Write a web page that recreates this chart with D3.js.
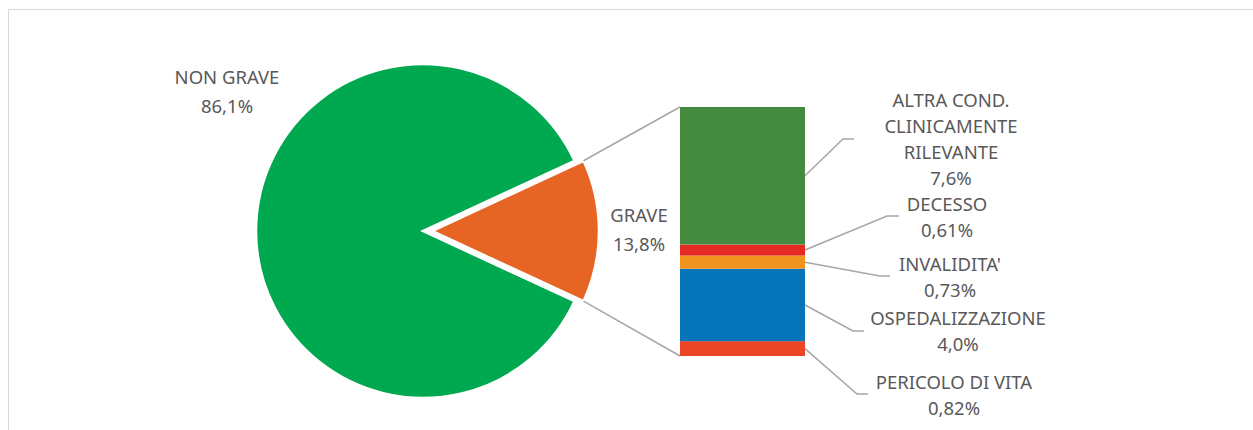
<!DOCTYPE html>
<html>
<head>
<meta charset="utf-8">
<script src="https://cdn.jsdelivr.net/npm/d3@7"></script>
<style>
  body { margin: 0; background: #fff; }
  text { font-family: "Noto Sans", sans-serif; font-size: 18.5px; fill: #595959; }
</style>
</head>
<body>
<script>
// pie: non grave vs grave
const pieLabels = ['NON GRAVE', 'GRAVE'];
const pieValues = [86.1, 13.8];
const pieText = ['86,1%', '13,8%'];
const pieColors = ['#00a850', '#e66525'];

// breakdown of GRAVE, bottom to top
const subLabels = [['PERICOLO DI VITA'], ['OSPEDALIZZAZIONE'], ["INVALIDITA'"], ['DECESSO'], ['ALTRA COND.', 'CLINICAMENTE', 'RILEVANTE']];
const subValues = [0.82, 4.0, 0.73, 0.61, 7.6];
const subText = ['0,82%', '4,0%', '0,73%', '0,61%', '7,6%'];
const subColors = ['#ec4525', '#0574b8', '#f0931f', '#e32b24', '#448a3f'];

const svg = d3.select('body').append('svg')
    .attr('width', 1253)
    .attr('height', 430);

// chart frame
svg.append('rect')
    .attr('x', 8.5).attr('y', 9.5)
    .attr('width', 1300).attr('height', 500)
    .style('fill', 'none').style('stroke', '#d9d9d9');

const cx = 423, cy = 231, r = 167, explode = 9;
const gAng = 2 * Math.PI * pieValues[1] / d3.sum(pieValues);
const start = Math.PI / 2 + gAng / 2;
const pie = d3.pie().sort(null).startAngle(start).endAngle(start + 2 * Math.PI);
const arcs = pie(pieValues);
const arc = d3.arc().innerRadius(0).outerRadius(r);

svg.selectAll('path.slice')
    .data(arcs)
    .enter()
    .append('path')
    .attr('class', 'slice')
    .attr('d', arc)
    .attr('transform', (d, i) => `translate(${cx + (i === 1 ? explode : 0)},${cy})`)
    .style('fill', (d, i) => pieColors[i])
    .style('stroke', '#fff')
    .style('stroke-width', 2.5);

// sub bar
const barX = 680, barW = 125;
const y = d3.scaleLinear().domain([0, d3.sum(subValues)]).range([356, 107]);
const cum = d3.cumsum(subValues);
const segs = subValues.map((v, i) => ({v, i, y0: cum[i] - v, y1: cum[i]}));

svg.selectAll('rect.seg')
    .data(segs)
    .enter()
    .append('rect')
    .attr('class', 'seg')
    .attr('x', barX)
    .attr('y', d => y(d.y1))
    .attr('width', barW)
    .attr('height', d => y(d.y0) - y(d.y1))
    .style('fill', d => subColors[d.i]);

// connector lines from grave slice to bar
const gx = cx + explode;
const aTop = arcs[1].startAngle, aBot = arcs[1].endAngle;
const conn = [
  [gx + r * Math.sin(aTop), cy - r * Math.cos(aTop), barX, y(d3.sum(subValues))],
  [gx + r * Math.sin(aBot), cy - r * Math.cos(aBot), barX, y(0)]
];
svg.selectAll('line.conn')
    .data(conn)
    .enter()
    .append('line')
    .attr('x1', d => d[0]).attr('y1', d => d[1])
    .attr('x2', d => d[2]).attr('y2', d => d[3])
    .style('stroke', '#a6a6a6').style('stroke-width', 1.5);

// pie labels
const pieLabelPos = [[227, 84], [639, 222]];
pieLabels.forEach((l, i) => {
  const t = svg.append('text').attr('text-anchor', 'middle');
  t.append('tspan').attr('x', pieLabelPos[i][0]).attr('y', pieLabelPos[i][1]).text(l);
  t.append('tspan').attr('x', pieLabelPos[i][0]).attr('y', pieLabelPos[i][1] + 29).text(pieText[i]);
});

// sub labels with leader lines
const labelPos = [[954, 389], [958, 325], [950, 271], [947, 211], [951, 107]];
const leaderMid = [[857, 394], [853, 331], [880, 276], [887, 216], [843, 139]];
const leaderEnd = [868, 864, 890, 899, 854];
const lineH = 26;

segs.forEach(d => {
  const i = d.i;
  const sy = y((d.y0 + d.y1) / 2);
  svg.append('polyline')
      .attr('points', [[barX + barW, sy], leaderMid[i], [leaderEnd[i], leaderMid[i][1]]].map(p => p.join(',')).join(' '))
      .style('fill', 'none').style('stroke', '#a6a6a6').style('stroke-width', 1.5);
  const t = svg.append('text').attr('text-anchor', 'middle');
  const lines = subLabels[i].concat([subText[i]]);
  lines.forEach((s, k) => {
    t.append('tspan').attr('x', labelPos[i][0]).attr('y', labelPos[i][1] + k * lineH).text(s);
  });
});
</script>
</body>
</html>
